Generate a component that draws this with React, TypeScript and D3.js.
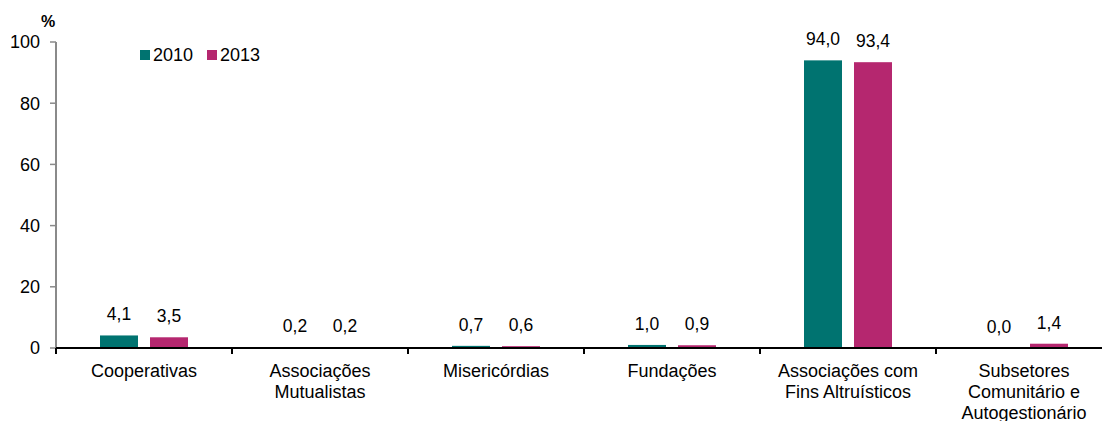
import React from "react";
import * as d3 from "d3";

const categories: string[][] = [
  ["Cooperativas"],
  ["Associações", "Mutualistas"],
  ["Misericórdias"],
  ["Fundações"],
  ["Associações com", "Fins Altruísticos"],
  ["Subsetores", "Comunitário e", "Autogestionário"],
];
const series = ["2010", "2013"];
const values2010 = [4.1, 0.2, 0.7, 1.0, 94.0, 0.0];
const values2013 = [3.5, 0.2, 0.6, 0.9, 93.4, 1.4];
const yTicks = [0, 20, 40, 60, 80, 100];
const colors = ["#007370", "#b5276f"];

const W = 1102;
const H = 421;
const FONT = "'Liberation Sans', Arial, sans-serif";

export default function App() {
  const x0 = d3
    .scaleBand<number>()
    .domain(categories.map((_, i) => i))
    .range([56, 56 + 176 * 6])
    .padding(0);
  const x1 = d3
    .scaleBand<string>()
    .domain(series)
    .range([0, x0.bandwidth()])
    .paddingInner(0.24)
    .paddingOuter(0.88);
  const y = d3.scaleLinear().domain([0, 100]).range([348, 42]);
  const data = [values2010, values2013];
  const fmt = (v: number) => v.toFixed(1).replace(".", ",");

  return (
    <svg
      width={W}
      height={H}
      style={{ position: "absolute", left: 0, top: 0, background: "#fff" }}
      fontFamily={FONT}
    >
      {/* % label */}
      <text x={48} y={27} fontSize={16} fontWeight="bold" textAnchor="middle" fill="#000">
        %
      </text>
      {/* y axis */}
      <line x1={56} x2={56} y1={y(100)} y2={y(0)} stroke="#8a8a8a" strokeWidth={2} />
      {yTicks.map((t) => (
        <g key={t}>
          <line x1={50} x2={56} y1={y(t)} y2={y(t)} stroke="#8a8a8a" strokeWidth={1.5} />
          <text x={40} y={y(t)} dy="0.36em" fontSize={18} textAnchor="end" fill="#000">
            {t}
          </text>
        </g>
      ))}
      {/* bars */}
      {categories.map((_, i) =>
        series.map((s, si) => {
          const v = data[si][i];
          const bx = (x0(i) as number) + (x1(s) as number);
          const bw = x1.bandwidth();
          return (
            <g key={`${i}-${s}`}>
              <rect
                x={bx}
                y={y(v)}
                width={bw}
                height={y(0) - y(v)}
                fill={colors[si]}
              />
              <text
                x={bx + bw / 2}
                y={y(v) - 15}
                fontSize={17.5}
                textAnchor="middle"
                fill="#000"
              >
                {fmt(v)}
              </text>
            </g>
          );
        })
      )}
      {/* x axis */}
      <line x1={56} x2={W} y1={y(0)} y2={y(0)} stroke="#000" strokeWidth={2} />
      {categories.map((_, i) => (
        <line
          key={i}
          x1={x0(i) as number}
          x2={x0(i) as number}
          y1={y(0)}
          y2={y(0) + 6}
          stroke="#000"
          strokeWidth={2}
        />
      ))}
      {categories.map((lines, i) => (
        <text
          key={i}
          x={(x0(i) as number) + x0.bandwidth() / 2}
          y={377}
          fontSize={18}
          textAnchor="middle"
          fill="#000"
        >
          {lines.map((l, li) => (
            <tspan key={li} x={(x0(i) as number) + x0.bandwidth() / 2} dy={li === 0 ? 0 : 21}>
              {l}
            </tspan>
          ))}
        </text>
      ))}
      {/* legend */}
      {series.map((s, si) => {
        const lx = si === 0 ? 140 : 207;
        return (
          <g key={s}>
            <rect x={lx} y={50} width={10} height={10} fill={colors[si]} />
            <text x={lx + 13} y={61} fontSize={18} fill="#000">
              {s}
            </text>
          </g>
        );
      })}
    </svg>
  );
}
